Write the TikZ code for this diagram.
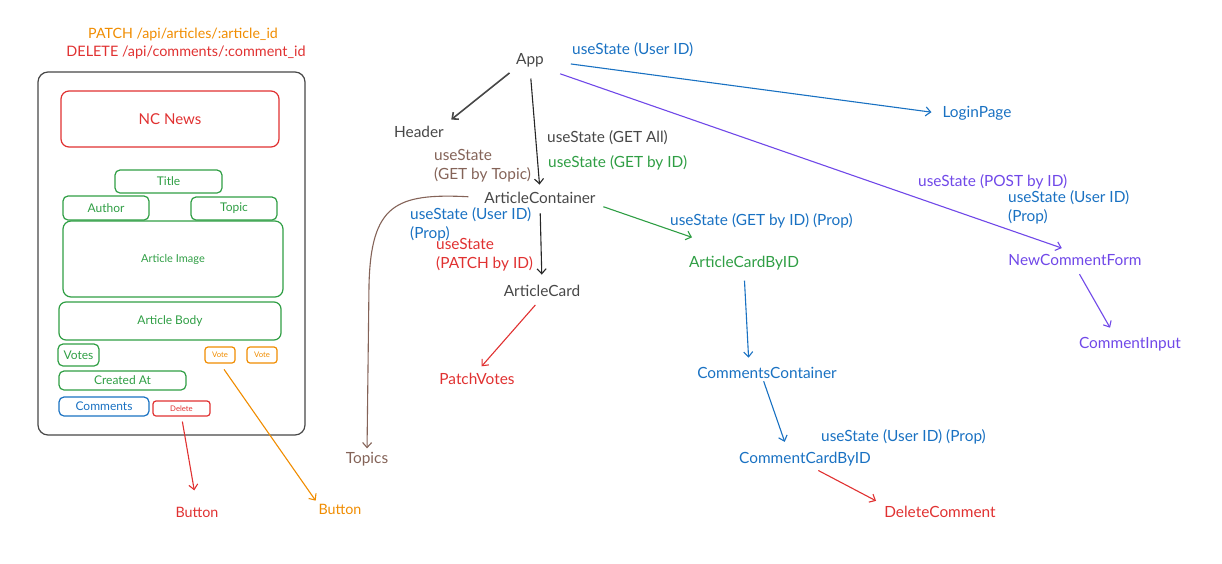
\documentclass[tikz,border=0pt]{standalone}
\usepackage{fontspec}
\setmainfont{Lato}
\usetikzlibrary{arrows.meta}
\definecolor{cdark}{HTML}{474747}
\definecolor{cblue}{HTML}{1971C2}
\definecolor{cgreen}{HTML}{2F9E44}
\definecolor{cred}{HTML}{E03131}
\definecolor{corange}{HTML}{F08C00}
\definecolor{cpurple}{HTML}{7048E8}
\definecolor{cbrown}{HTML}{846358}
\begin{document}
\begin{tikzpicture}[x=1pt,y=-1pt,
  lbl/.style={inner sep=1pt, yshift=-1.5pt, font=\fontsize{15.4}{19}\selectfont},
  lblw/.style={lbl, anchor=west, align=left},
  arr/.style={-{Straight Barb[length=5pt,width=9pt]}, line width=1.1pt},
  ui/.style={draw, rounded corners=5pt, line width=1.2pt, inner sep=0pt},
  uitxt/.style={font=\fontsize{12}{14}\selectfont},
  tiny/.style={font=\fontsize{7.7}{9}\selectfont}
]
\useasboundingbox (0,0) rectangle (1222,563);

% ---------- left mockup ----------
\node[lbl, text=corange, font=\fontsize{14.2}{16}\selectfont] (patch) at (183,33) {PATCH /api/articles/:article\_id};
\node[lbl, text=cred, font=\fontsize{14.4}{16}\selectfont] (delapi) at (186,51) {DELETE /api/comments/:comment\_id};
\node[ui, draw=cdark, rounded corners=10pt, minimum width=267pt, minimum height=363pt] (phone) at (171.5,253.5) {};
\node[ui, draw=cred, text=cred, rounded corners=8pt, minimum width=218pt, minimum height=56pt, font=\fontsize{15}{17}\selectfont] (ncnews) at (170,119) {NC News};
\node[ui, draw=cgreen, text=cgreen, uitxt, minimum width=107pt, minimum height=23pt] (title) at (168.5,181.5) {Title};
\node[ui, draw=cgreen, text=cgreen, uitxt, minimum width=86pt, minimum height=24pt] (author) at (106,208) {Author};
\node[ui, draw=cgreen, text=cgreen, uitxt, minimum width=86pt, minimum height=23pt] (topic) at (234,208.5) {Topic};
\node[ui, draw=cgreen, text=cgreen, rounded corners=8pt, font=\fontsize{11}{13}\selectfont, minimum width=220pt, minimum height=76pt] (image) at (173,259) {Article Image};
\node[ui, draw=cgreen, text=cgreen, rounded corners=7pt, uitxt, minimum width=222pt, minimum height=38pt] (body) at (170,321) {Article Body};
\node[ui, draw=cgreen, text=cgreen, uitxt, minimum width=41pt, minimum height=22pt] (votes) at (78.5,355) {Votes};
\node[ui, draw=corange, text=corange, tiny, rounded corners=3pt, minimum width=30pt, minimum height=16pt] (vote1) at (220,355) {Vote};
\node[ui, draw=corange, text=corange, tiny, rounded corners=3pt, minimum width=30pt, minimum height=16pt] (vote2) at (262,355) {Vote};
\node[ui, draw=cgreen, text=cgreen, uitxt, minimum width=127pt, minimum height=19pt] (created) at (122.5,380.5) {Created At};
\node[ui, draw=cblue, text=cblue, uitxt, minimum width=90pt, minimum height=19pt] (comments) at (104,406.5) {Comments};
\node[ui, draw=cred, text=cred, tiny, rounded corners=3pt, minimum width=57pt, minimum height=15pt] (deleteb) at (181.5,408.5) {Delete};

\node[lbl, text=cred, font=\fontsize{14.3}{16}\selectfont] (btnred) at (197,511) {Button};
\node[lbl, text=corange, font=\fontsize{14.3}{16}\selectfont] (btnorange) at (340,508) {Button};
\draw[arr, cred, shorten <=5pt, shorten >=16pt] (deleteb.south) -- (btnred.north);
\draw[arr, corange, shorten <=7pt, shorten >=3pt] (vote1.south) -- (btnorange.north west);

% ---------- component tree ----------
\node[lbl, text=cdark] (app) at (530,59) {App};
\node[lbl, text=cdark] (header) at (419,130) {Header};
\node[lbl, text=cblue] (login) at (977,112) {LoginPage};
\node[lbl, text=cpurple] (ncf) at (1075,258) {NewCommentForm};
\node[lbl, text=cpurple] (ci) at (1130,343) {CommentInput};
\node[lbl, text=cdark] (acont) at (540,196) {ArticleContainer};
\node[lbl, text=cbrown] (topics) at (367,458) {Topics};
\node[lbl, text=cdark] (acard) at (542,289) {ArticleCard};
\node[lbl, text=cred] (pv) at (477,377) {PatchVotes};
\node[lbl, text=cgreen] (acbid) at (744,262) {ArticleCardByID};
\node[lbl, text=cblue] (cc) at (767,371) {CommentsContainer};
\node[lbl, text=cblue] (ccbid) at (805,458) {CommentCardByID};
\node[lbl, text=cred] (dc) at (940,510) {DeleteComment};

% labels
\node[lblw, text=cblue] (l1) at (571,48) {useState (User ID)};
\node[lblw, text=cdark] (l2) at (546,136) {useState (GET All)};
\node[lblw, text=cgreen] (l3) at (547,161) {useState (GET by ID)};
\node[lblw, text=cbrown] (l4) at (433,164) {useState\\(GET by Topic)};
\node[lblw, text=cblue] (l5) at (409,222.5) {useState (User ID)\\(Prop)};
\node[lblw, text=cred] (l6) at (435,253.5) {useState\\(PATCH by ID)};
\node[lblw, text=cblue] (l7) at (669,219) {useState (GET by ID) (Prop)};
\node[lblw, text=cpurple] (l8) at (917,180) {useState (POST by ID)};
\node[lblw, text=cblue] (l9) at (1007,205.5) {useState (User ID)\\(Prop)};
\node[lblw, text=cblue] (l10) at (820,435) {useState (User ID) (Prop)};

% connectors
\draw[arr, cdark, line width=1.6pt, shorten <=7pt, shorten >=8pt] (app.south west) -- (header.north east);
\draw[arr, cblue, shorten <=26pt, shorten >=10pt] (app.east) -- (login.west);
\draw[arr, cpurple, shorten <=16pt, shorten >=14pt] (app.south east) -- (ncf.north);
\draw[arr, black!85, shorten <=10pt, shorten >=6pt] (app.south) -- (acont.north);
\draw[arr, black!85, shorten <=9pt, shorten >=9pt] (acont.south) -- (acard.north);
\draw[arr, cred, shorten <=10pt, shorten >=7pt] (acard.south) -- (pv.north);
\draw[arr, cgreen, shorten <=7pt, shorten >=55pt] (acont.south east) -- (acbid.north);
\draw[arr, cblue, shorten <=9pt, shorten >=8pt] (acbid.south) -- ([xshift=5pt]acbid.south |- cc.north);
\draw[arr, cblue, shorten <=2pt, shorten >=10pt] ([xshift=-4pt]cc.south) -- ([xshift=-17pt]ccbid.north);
\draw[arr, cred, shorten <=6pt, shorten >=8pt] ([xshift=8pt]ccbid.south) -- (dc.north west);
\draw[arr, cpurple, shorten <=9pt, shorten >=10pt] (ncf.south) -- ([xshift=-15pt]ci.north);
\draw[arr, cbrown, shorten <=15pt, shorten >=3pt] (acont.west) .. controls (395,193) and (371,205) .. (369,285) -- (topics.north);
\end{tikzpicture}
\end{document}
